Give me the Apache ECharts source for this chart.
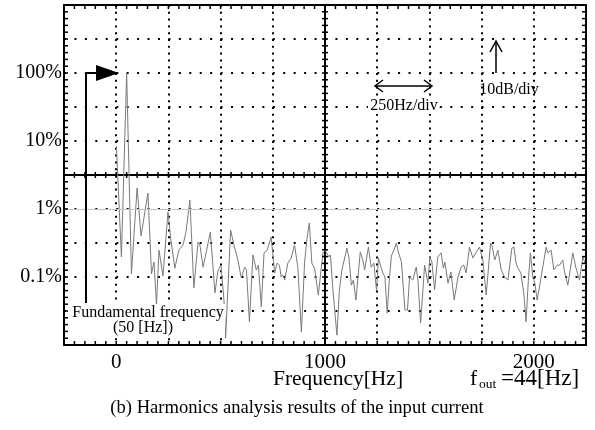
<!DOCTYPE html>
<html><head><meta charset="utf-8">
<script src="https://cdn.jsdelivr.net/npm/echarts@6/dist/echarts.min.js"></script>
<style>html,body{margin:0;padding:0;background:#fff}#c{width:595px;height:430px}</style>
</head><body><div id="c"></div>
<script>
// Spectrum of the input current: frequency [Hz] and level [dB relative to the fundamental]
const freqHz = [1, 25, 50, 73, 100, 119, 152, 169, 181, 193, 205, 224, 248, 262, 281, 300, 320, 334, 353, 372,
  392, 401, 416, 451, 473, 487, 502, 516, 524, 548, 564, 583, 599, 615, 624, 638, 655, 671, 681, 695,
  708, 723, 742, 751, 759, 771, 782, 790, 798, 807, 822, 838, 854, 870, 887, 902, 913, 925, 937, 950,
  968, 990, 1000, 1009, 1019, 1026, 1038, 1057, 1069, 1081, 1105, 1115, 1126, 1136, 1148, 1169, 1181, 1190, 1208, 1221,
  1234, 1247, 1256, 1265, 1277, 1287, 1298, 1308, 1318, 1330, 1342, 1351, 1366, 1383, 1395, 1405, 1421, 1437, 1445, 1458,
  1469, 1477, 1493, 1502, 1512, 1525, 1540, 1556, 1567, 1574, 1589, 1603, 1619, 1636, 1652, 1665, 1676, 1692, 1708, 1722,
  1740, 1756, 1772, 1793, 1799, 1813, 1828, 1844, 1860, 1876, 1895, 1905, 1914, 1924, 1938, 1952, 1963, 1974, 1984, 1995,
  2005, 2016, 2027, 2043, 2059, 2067, 2083, 2096, 2112, 2124, 2139, 2147, 2163, 2187, 2201, 2219, 2235, 2249];
const levelDb = [-21.5, -54.1, 0, -59.1, -33.8, -47.9, -35.3, -59.1, -55.6, -68.2, -52.1, -59.7, -40.9, -49.1, -57.4, -52.1, -50.6, -46.8, -37.4, -63.2,
  -49.7, -50.6, -57.1, -46.8, -64.7, -58.2, -56.5, -66.8, -78, -46.2, -50.6, -55, -60.3, -57.1, -57.9, -73.2, -53.5, -57.9, -56.5, -68.8,
  -52.9, -52.1, -48.2, -48.5, -58.8, -55.9, -56.5, -60, -59.4, -60.9, -55.9, -54.4, -50.6, -57.1, -76.2, -55.9, -49.1, -44.1, -55.9, -57.4,
  -65.3, -52.9, -52.1, -52.6, -54.1, -53.5, -63.8, -77.1, -63.8, -57.9, -51.5, -54.4, -62.4, -60.9, -66.8, -52.6, -55, -57.9, -51.2, -57.1,
  -55.9, -64.1, -54.4, -56.5, -58.8, -60, -70.6, -60.9, -53.8, -52.1, -50, -52.6, -55.6, -69.7, -69.7, -60, -60.9, -57.1, -60.9, -73.5,
  -63.8, -56.5, -61.8, -54.1, -55.6, -63.8, -54.1, -52.9, -57.4, -55.6, -61.8, -58.5, -66.8, -60.3, -57.1, -56.5, -58.8, -51.2, -54.4, -52.9,
  -51.2, -55, -65.3, -50, -50.6, -55, -52.1, -57.9, -60, -60.9, -51.5, -51.2, -55.6, -57.4, -58.8, -64.7, -73.2, -60.9, -52.9, -60,
  -61.8, -66.8, -62.9, -57.1, -51.2, -52.9, -52.1, -57.9, -56.5, -56.5, -55, -58.5, -62.4, -52.9, -57.1, -60.9, -54.1, -56.5];
const xTickLabels = {'0': '0', '1000': '1000', '2000': '2000'};
const yTickLabels = {'0': '100%', '-20': '10%', '-40': '1%', '-60': '0.1%'};
const refLevelDb = -40;

const X_MIN = -250, X_MAX = 2250, X_DIV = 250, X_CENTER = 1000;
const Y_MIN = -80, Y_MAX = 20, Y_DIV = 10, Y_CENTER = -30;
const MINOR = 5;

const FONT = 'Liberation Serif';
const chart = echarts.init(document.getElementById('c'), null, {renderer: 'canvas'});

function frameAxis(isX, extra) {
  const base = isX ? {type: 'value', min: X_MIN, max: X_MAX, interval: X_DIV}
                   : {type: 'value', min: Y_MIN, max: Y_MAX, interval: Y_DIV};
  return Object.assign(base, {
    axisLine: {show: true, onZero: false, lineStyle: {color: '#000', width: 2}},
    axisTick: {show: false}, minorTick: {show: false},
    axisLabel: {show: false},
    splitLine: {show: false}
  }, extra);
}

const annotations = [
  {type: 'rect', z: 100, shape: {x: 72, y: 304, width: 153, height: 33}, style: {fill: '#fff'}},
  {type: 'text', z: 101, style: {x: 148, y: 313, text: 'Fundamental frequency', font: '16px "Liberation Serif"', fill: '#000', align: 'center', verticalAlign: 'middle'}},
  {type: 'text', z: 101, style: {x: 143, y: 328, text: '(50 [Hz])', font: '16px "Liberation Serif"', fill: '#000', align: 'center', verticalAlign: 'middle'}},
  {type: 'polyline', z: 101, shape: {points: [[86, 303], [86, 73], [97, 73]]}, style: {stroke: '#000', lineWidth: 2, fill: null}},
  {type: 'polygon', z: 101, shape: {points: [[96, 65], [119, 73], [96, 81]]}, style: {fill: '#000'}},
  {type: 'rect', z: 100, shape: {x: 368, y: 99, width: 71, height: 15}, style: {fill: '#fff'}},
  {type: 'text', z: 101, style: {x: 404, y: 106, text: '250Hz/div', font: '16px "Liberation Serif"', fill: '#000', align: 'center', verticalAlign: 'middle'}},
  {type: 'line', z: 101, shape: {x1: 375, y1: 86, x2: 432, y2: 86}, style: {stroke: '#000', lineWidth: 1.5}},
  {type: 'polyline', z: 101, shape: {points: [[383, 80], [375, 86], [383, 92]]}, style: {stroke: '#000', lineWidth: 1.5, fill: null}},
  {type: 'polyline', z: 101, shape: {points: [[424, 80], [432, 86], [424, 92]]}, style: {stroke: '#000', lineWidth: 1.5, fill: null}},
  {type: 'line', z: 101, shape: {x1: 496, y1: 73, x2: 496, y2: 41}, style: {stroke: '#000', lineWidth: 1.5}},
  {type: 'polyline', z: 101, shape: {points: [[490, 52], [496, 41], [502, 52]]}, style: {stroke: '#000', lineWidth: 1.5, fill: null}},
  {type: 'text', z: 101, style: {x: 509, y: 90, text: '10dB/div', font: '16px "Liberation Serif"', fill: '#000', align: 'center', verticalAlign: 'middle'}},
  {type: 'text', z: 101, style: {x: 338, y: 379, text: 'Frequency[Hz]', font: '21.5px "Liberation Serif"', fill: '#000', align: 'center', verticalAlign: 'middle'}},
  {type: 'text', z: 101, style: {x: 470, y: 379, text: 'f', font: '21.5px "Liberation Serif"', fill: '#000', align: 'left', verticalAlign: 'middle'}},
  {type: 'text', z: 101, style: {x: 479, y: 384, text: 'out', font: '13.5px "Liberation Serif"', fill: '#000', align: 'left', verticalAlign: 'middle'}},
  {type: 'text', z: 101, style: {x: 501, y: 379, text: '=44[Hz]', font: '23px "Liberation Serif"', fill: '#000', align: 'left', verticalAlign: 'middle'}},
  {type: 'text', z: 101, style: {x: 297, y: 408, text: '(b) Harmonics analysis results of the input current', font: '18.6px "Liberation Serif"', fill: '#000', align: 'center', verticalAlign: 'middle'}}
];

const option = {
  animation: false,
  backgroundColor: '#fff',
  grid: {left: 64, right: 9, top: 5, bottom: 85},
  xAxis: [
    frameAxis(true, {
      position: 'bottom',
      axisLabel: {show: true, margin: 7, color: '#000', fontFamily: FONT, fontSize: 21,
        formatter: v => xTickLabels[String(v)] || ''},
      splitLine: {show: true, lineStyle: {color: '#000', width: 2, type: [2, 4.8]}}
    }),
    frameAxis(true, {position: 'top'}),
    frameAxis(true, {position: 'bottom', offset: -170})
  ],
  yAxis: [
    frameAxis(false, {
      position: 'left',
      axisLabel: {show: true, margin: 2, color: '#000', fontFamily: FONT, fontSize: 20,
        formatter: v => yTickLabels[String(v)] || ''},
      splitLine: {show: true, lineStyle: {color: '#000', width: 2, type: [2, 8.44]}}
    }),
    frameAxis(false, {position: 'right'}),
    frameAxis(false, {position: 'left', offset: -261})
  ],
  series: [{
    type: 'line',
    xAxisIndex: 0, yAxisIndex: 0,
    data: freqHz.map((f, i) => [f, levelDb[i]]),
    showSymbol: false,
    lineStyle: {color: '#7a7a7a', width: 1},
    markLine: {
      silent: true, symbol: 'none', label: {show: false},
      lineStyle: {color: '#c4c4c4', width: 1, type: 'solid'},
      data: [{yAxis: refLevelDb}]
    }
  }],
  graphic: annotations
};
chart.setOption(option);

// Graduation marks on frame and centre lines, placed through the axes' own scales
const px = v => chart.convertToPixel({xAxisIndex: 0}, v);
const py = v => chart.convertToPixel({yAxisIndex: 0}, v);
const L = px(X_MIN), R = px(X_MAX), CX = px(X_CENTER);
const T = py(Y_MAX), B = py(Y_MIN), CY = py(Y_CENTER);
const tickMarks = [];
const mk = (x1, y1, x2, y2) => tickMarks.push({type: 'line', z: 50, silent: true,
  shape: {x1: x1, y1: y1, x2: x2, y2: y2}, style: {stroke: '#000', lineWidth: 1.5}});
for (let v = X_MIN; v <= X_MAX + 1e-9; v += X_DIV / MINOR) {
  const x = px(v);
  mk(x, T, x, T + 4);
  mk(x, B - 4, x, B);
  mk(x, CY - 3, x, CY + 3);
}
for (let v = Y_MIN; v <= Y_MAX + 1e-9; v += Y_DIV / MINOR) {
  const y = py(v);
  mk(L, y, L + 4, y);
  mk(R - 4, y, R, y);
  mk(CX - 3, y, CX + 3, y);
}
chart.setOption({graphic: annotations.concat(tickMarks)});
</script>
</body></html>
